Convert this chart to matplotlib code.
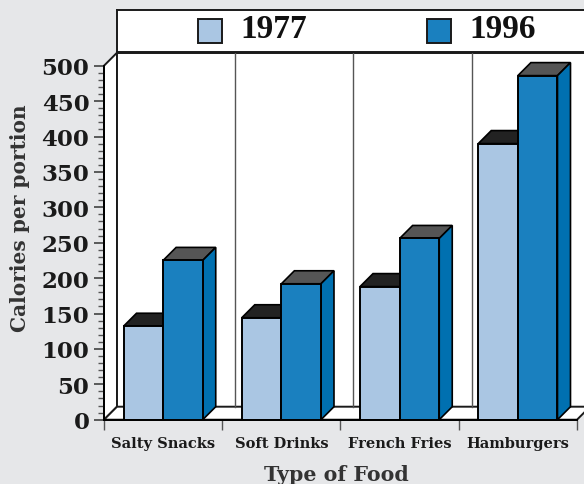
import numpy as np
import matplotlib
matplotlib.use('Agg')
import matplotlib.pyplot as plt
from matplotlib.patches import Polygon, Rectangle

plt.rcParams['font.family'] = ['DejaVu Serif']
plt.rcParams['font.weight'] = 'bold'

foods = ['Salty Snacks', 'Soft Drinks', 'French Fries', 'Hamburgers']
cal_1977 = [132, 144, 188, 390]
cal_1996 = [225, 192, 256, 486]
years = ['1977', '1996']

bg = '#e6e7e9'
front_77, top_77 = '#aac6e3', '#222222'
front_96, top_96, side_96 = '#1a80bf', '#555555', '#0070b0'
ink = '#1a1a1a'

W, H = 584, 485
fig = plt.figure(figsize=(W/100, H/100), dpi=100, facecolor=bg)

#Axes cover the front plane of the 3d box
ax = fig.add_axes([104/W, 1-420.7/H, 473/W, 354/H])
ax.set_xlim(-0.5, 3.5)
ax.set_ylim(0, 500)
ax.patch.set_visible(False)
for s in ['top', 'right']:
    ax.spines[s].set_visible(False)
ax.spines['left'].set_linewidth(1.4)
ax.spines['bottom'].set_linewidth(1.4)
ax.spines['left'].set_zorder(6)
ax.spines['bottom'].set_zorder(6)

#depth of the box in data units (13 px each way)
dx = 13/118.25
dy = 13/354*500
bw = 0.335

#walls and floor
ax.add_patch(Polygon([(-0.5, 0), (-0.5+dx, dy), (-0.5+dx, 500+dy), (-0.5, 500)],
                     fc='white', ec=ink, lw=1.4, clip_on=False, zorder=1))
ax.add_patch(Rectangle((-0.5+dx, dy), 4.5, 500, fc='white', ec=ink, lw=1.4,
                       clip_on=False, zorder=1))
ax.add_patch(Polygon([(-0.5, 0), (-0.5+dx, dy), (3.5+dx, dy), (3.5, 0)],
                     fc='white', ec=ink, lw=1.4, clip_on=False, zorder=1))
for k in range(1, 4):
    ax.plot([k-0.5+dx]*2, [dy, 500+dy], color='#555555', lw=1, clip_on=False, zorder=2)


def box(x, val, front, top, side, z):
    ax.add_patch(Rectangle((x, 0), bw, val, fc=front, ec='black', lw=1.4, zorder=z+0.2))
    ax.add_patch(Polygon([(x, val), (x+dx, val+dy), (x+bw+dx, val+dy), (x+bw, val)],
                         fc=top, ec='black', lw=1.2, clip_on=False, zorder=z))
    ax.add_patch(Polygon([(x+bw, 0), (x+bw+dx, dy), (x+bw+dx, val+dy), (x+bw, val)],
                         fc=side, ec='black', lw=1.2, clip_on=False, zorder=z))


for i in range(len(foods)):
    box(i-bw, cal_1977[i], front_77, top_77, top_77, 3)
    box(i, cal_1996[i], front_96, top_96, side_96, 4)

ax.set_yticks(np.arange(0, 501, 50))
ax.set_yticks(np.arange(0, 501, 10), minor=True)
ax.tick_params(axis='y', which='major', length=7.5, width=1.1, color='#333333',
               labelsize=16.5, labelcolor=ink, pad=3)
ax.tick_params(axis='y', which='minor', length=4, width=1, color='#555555')
ax.set_xticks(np.arange(-0.5, 3.6, 1))
ax.set_xticklabels([])
ax.set_xticks(np.arange(4), minor=True)
ax.set_xticklabels(foods, minor=True)
ax.tick_params(axis='x', which='major', length=7.5, width=1, color='#555555')
ax.tick_params(axis='x', which='minor', length=0, labelsize=10.5, labelcolor=ink, pad=12)

fig.text(336/W, 1-475/H, 'Type of Food', ha='center', va='center', fontsize=14.8, color='#333333')
fig.text(20/W, 1-218.5/H, 'Calories per portion', ha='center', va='center', rotation=90,
         fontsize=14.5, color='#333333')

#legend strip above the box, its lower edge sits on the top of the back wall
lg = fig.add_axes([117/W, 1-52.7/H, (W-117+5)/W, 41.7/H])
lg.set_xlim(117, W+5)
lg.set_ylim(52.7, 11)
lg.set_xticks([])
lg.set_yticks([])
for s in lg.spines.values():
    s.set_linewidth(1.4)
    s.set_color(ink)
for name, col, sx, tx in zip(years, [front_77, front_96], [197.5, 426.5], [240, 469]):
    lg.add_patch(Rectangle((sx, 19.5), 24.5, 24.5, fc=col, ec=ink, lw=1.4))
    lg.text(tx, 29, name, ha='left', va='center', fontsize=24, color='#111111',
            family='Liberation Serif')

fig.savefig('out.png', dpi=100, facecolor=bg)
